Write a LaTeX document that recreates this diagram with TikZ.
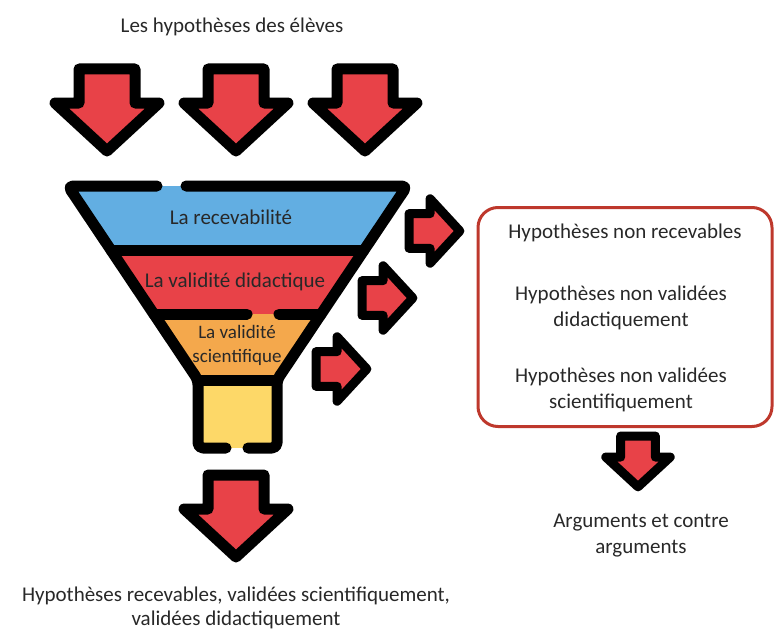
\documentclass[tikz,border=0pt]{standalone}
\usepackage{fontspec}
\setmainfont{Carlito}
\usepackage{tikz}

\definecolor{arrowred}{RGB}{232,66,72}
\definecolor{levelblue}{RGB}{98,174,226}
\definecolor{levelred}{RGB}{232,66,72}
\definecolor{levelorange}{RGB}{244,168,76}
\definecolor{neckyellow}{RGB}{253,216,104}
\definecolor{boxred}{RGB}{190,56,44}
\definecolor{txt}{RGB}{40,40,40}

\begin{document}
\begin{tikzpicture}[x=1pt, y=-1pt]
			\tikzstyle{blockarrow}=[draw=black, fill=arrowred, line join=round]
			\tikzstyle{outline}=[draw=black, line width=11, line cap=round, line join=round, rounded corners=5]
			\tikzstyle{label}=[text=txt, align=center, font=\fontsize{21}{26}\selectfont]
			\newcommand\BlockArrow[4]{%
				\begin{scope}[shift={#1}, rotate=#2, scale=#3]
					\path [blockarrow, line width=#4] (-28,0) -- (28,0) -- (28,34) -- (52,34) -- (0,82) -- (-52,34) -- (-28,34) -- cycle;
				\end{scope}}

			\newcommand\Ytop{186}
			\newcommand\Yone{250}
			\newcommand\Ytwo{314}
			\newcommand\Yneck{380}
			\newcommand\Ybot{448}

			\useasboundingbox (0,0) rectangle (779,634);

			% Grid
			% \draw [help lines, step=50] (0,0) grid (779,634);
			 % Title and input arrows
			\node [label] at (232,27) (title) {Les hypothèses des élèves};
			\BlockArrow{(107,69)}{0}{1}{11}
			\BlockArrow{(236,69)}{0}{1}{11}
			\BlockArrow{(365,69)}{0}{1}{11}

			 % Funnel levels
			\fill [levelblue] (68,\Ytop) -- (407,\Ytop) -- (364,\Yone) -- (111,\Yone) -- cycle;
			\fill [levelred] (111,\Yone) -- (364,\Yone) -- (321,\Ytwo) -- (154,\Ytwo) -- cycle;
			\fill [levelorange] (154,\Ytwo) -- (321,\Ytwo) -- (277,\Yneck) -- (198,\Yneck) -- cycle;
			\fill [neckyellow] (198,\Yneck) rectangle (277,\Ybot);

			\path [outline] (157,\Ytop) -- (68,\Ytop) -- (198,\Yneck) -- (198,\Ybot) -- (226,\Ybot);
			\path [outline] (186,\Ytop) -- (407,\Ytop) -- (277,\Yneck) -- (277,\Ybot) -- (248,\Ybot);
			\path [outline] (111,\Yone) -- (364,\Yone);
			\path [outline] (154,\Ytwo) -- (247,\Ytwo);
			\path [outline] (279,\Ytwo) -- (321,\Ytwo);
			\path [outline] (198,\Yneck) -- (277,\Yneck);

			\node [label] at (231,217) (recev) {La recevabilité};
			\node [label] at (235,282) (didac) {La validité didactique};
			\node [label, font=\fontsize{19}{24}\selectfont] at (237,345) (scien) {La validité\\scientifique};

			 % Output
			\BlockArrow{(236,475)}{0}{1}{11}
			\node [label, font=\fontsize{21}{24}\selectfont] at (236,608) (accepted) {Hypothèses recevables, validées scientifiquement,\\validées didactiquement};

			 % Rejected hypotheses
			\BlockArrow{(409,231)}{90}{0.62}{9}
			\BlockArrow{(362,298)}{90}{0.62}{9}
			\BlockArrow{(316,369)}{90}{0.62}{9}

			\node [draw=boxred, line width=3, rounded corners=20, minimum width=294, minimum height=219] at (625,317) (rejected) {};
			\node [label] at (625,233) (nonrecev) {Hypothèses non recevables};
			\node [label] at (621,308) (nondidac) {Hypothèses non validées\\didactiquement};
			\node [label] at (621,390) (nonscien) {Hypothèses non validées\\scientifiquement};

			\BlockArrow{(638,436)}{0}{0.62}{9}
			\node [label] at (641,536) (args) {Arguments et contre\\arguments};

		\end{tikzpicture}
\end{document}
